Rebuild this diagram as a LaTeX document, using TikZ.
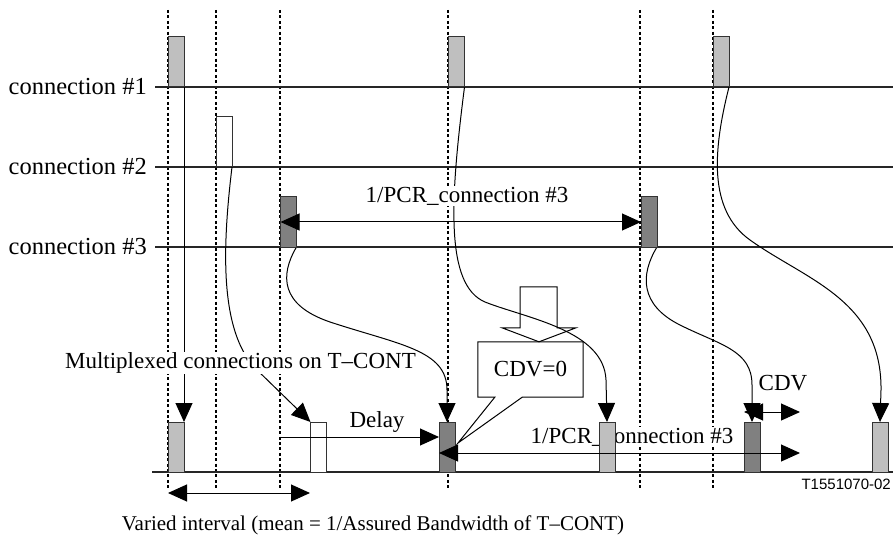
\documentclass[tikz,border=0pt]{standalone}
\usepackage{fontspec}
\setmainfont{Liberation Serif}
\newfontfamily\figsans{Liberation Sans}
\usetikzlibrary{arrows.meta}
\pgfdeclarelayer{back}
\pgfdeclarelayer{mid}
\pgfdeclarelayer{txt}
\pgfsetlayers{back,mid,txt,main}

\begin{document}
\begin{tikzpicture}[x=1pt,y=-1pt,
	>={Triangle[length=19pt,width=17pt]},
	lbl/.style={font=\fontsize{23}{27}\selectfont,inner sep=1pt},
	cover/.style={lbl,fill=white},
	cell/.style={draw=black!80,line width=1pt,minimum width=16pt,minimum height=50pt,inner sep=0,outer sep=0,anchor=south},
	lightcell/.style={cell,fill=black!25},
	darkcell/.style={cell,fill=black!50},
	emptycell/.style={cell,fill=white},
	dotline/.style={line width=2pt,dash pattern=on 3pt off 2.4pt},
	timeline/.style={line width=1.1pt,draw=black!85},
	flow/.style={line width=1pt,->}]
	\useasboundingbox (0,0) rectangle (893,545);
	\begin{pgfonlayer}{back}
		\foreach \x in {168,216,280,448,640,713}
			\draw [dotline] (\x,10) -- (\x,490);
		\foreach \y/\n in {87/1,167/2,247/3} {
			\node [lbl,font=\fontsize{24.5}{28}\selectfont,anchor=east] (conn\n) at (148,\y) {connection \#\n};
			\draw [timeline] (155,\y) -- (893,\y);
		}
		\draw [timeline] (152,472) -- (893,472);
	\end{pgfonlayer}
	\node [lightcell] (c1a) at (176,87) {};
	\node [lightcell] (c1b) at (456.5,87) {};
	\node [lightcell] (c1c) at (721,87) {};
	\node [emptycell] (c2a) at (224,167) {};
	\node [darkcell] (c3a) at (288.5,247) {};
	\node [darkcell] (c3b) at (649,247) {};
	\foreach \n/\x/\s in {ta/176/lightcell,tb/318.5/emptycell,tc/447/darkcell,td/607/lightcell,te/752/darkcell,tf/880/lightcell}
		\node [\s] (\n) at (\x,472) {};
	\begin{pgfonlayer}{mid}
		\draw [flow] (c1a.south east) -- (c1a.south east |- ta.north);
		\draw [flow] (c2a.south east) .. controls (222,250) and (220,330) .. (255,368) -- (tb.north west);
		\draw [flow] (c3a.south east) .. controls (280,275) and (280,305) .. (330,322) .. controls (400,345) and (447,350) .. (447,390) -- (tc.north);
		\draw [flow] (c1b.south east) .. controls (450,200) and (445,285) .. (485,302) .. controls (525,318) and (604,330) .. (606,380) -- (td.north);
		\draw [flow] (c3b.south east) .. controls (640,275) and (640,305) .. (680,325) .. controls (720,345) and (752,350) .. (752,385) -- (te.north);
		\draw [flow] (c1c.south east) .. controls (713,150) and (708,210) .. (750,240) .. controls (806,280) and (882,300) .. (881,390) -- (tf.north);
	\end{pgfonlayer}
	\begin{pgfonlayer}{txt}
		\node [cover,anchor=east] (mux) at (417,363) {Multiplexed connections on T–CONT};
		\node [cover] (pcrtop) at (467,196) {1/PCR\_connection \#3};
		\node [cover] (pcrbot) at (632,437) {1/PCR\_connection \#3};
	\end{pgfonlayer}
	\draw [line width=1pt] [<->] (c3a.west) -- (c3b.west);
	\coordinate (pcrend) at (800,453);
	\draw [line width=1pt] [<->] (tc.west |- pcrend) -- (pcrend);
	\coordinate (cdvend) at (800,412);
	\draw [line width=1pt] [<->] (te.west |- cdvend) -- (cdvend);
	\node [lbl] (cdv) at (783,383) {CDV};
	\coordinate (delaystart) at (280,437);
	\draw [line width=1pt] [->] (delaystart) -- (delaystart -| tc.west);
	\node [lbl] (delay) at (377,422) {Delay};
	\coordinate (varl) at (168,493);
	\coordinate (varr) at (310,493);
	\draw [line width=1pt] [<->] (varl) -- (varr);
	\node [lbl,font=\fontsize{21}{25}\selectfont] (varied) at (373,525) {Varied interval (mean = 1/Assured Bandwidth of T–CONT)};
	\node [lbl,minimum width=105pt,minimum height=55pt] (cdvbox) at (530.5,369.5) {CDV=0};
	\coordinate (cdvtip) at (458,443);
	\draw [line width=1pt] (cdvbox.south west) -- (cdvbox.north west) -- (cdvbox.north east) -- (cdvbox.south east) -- ([xshift=-61pt]cdvbox.south east) -- (cdvtip) -- ([xshift=17pt]cdvbox.south west) -- cycle;
	\coordinate (downtip) at ([xshift=8.5pt]cdvbox.north);
	\draw [line width=1pt] (downtip) -- ++(-37,-14) -- ++(18,0) -- ++(0,-41) -- ++(37,0) -- ++(0,41) -- ++(19,0) -- cycle;
	\node [font=\figsans\fontsize{15}{17}\selectfont,anchor=east,inner sep=0] (figid) at (891,484) {T1551070-02};
\end{tikzpicture}
\end{document}
